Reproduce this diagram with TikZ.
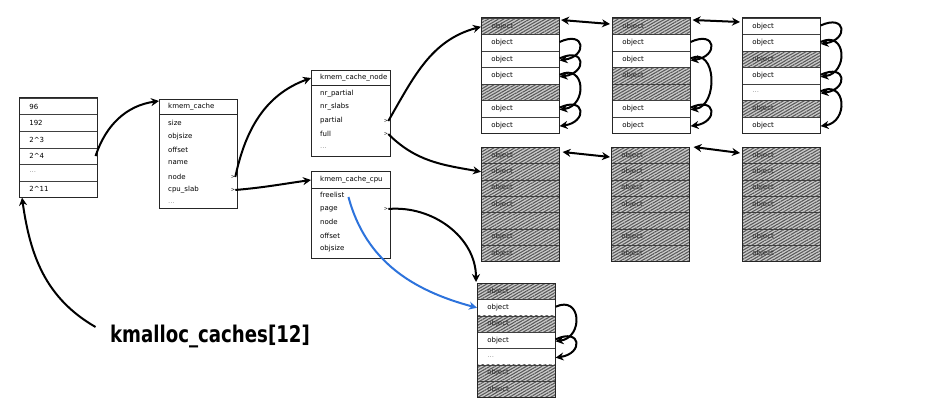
\documentclass[tikz,border=0pt]{standalone}
\usepackage{fontspec}
\setmainfont{DejaVu Sans}
\usetikzlibrary{arrows.meta,patterns.meta,calc}
\definecolor{fblue}{RGB}{45,115,220}
\newcommand\dotsg{\textcolor{black!40}{...}}
\newcommand\mkslab[5]{%
  \foreach \st/\tx [count=\i] in {#5}{%
    \node[\st, minimum height=#4pt] (#1-\i) at (#2,{-(#3+(\i-1)*#4)}) {\tx};}%
}
\newcommand\lp[2]{\draw[arr] ($(#1.east)+(0,1)$) .. controls +(26,12) and +(28,4) .. ($(#2.east)+(0,-1)$);}
\begin{document}
\begin{tikzpicture}[x=1pt,y=1pt,
  every node/.style={font=\fontsize{7}{8}\selectfont},
  cell/.style={draw=black!75, line width=0.6pt, fill=white, inner ysep=0pt, inner xsep=10pt,
    text width=58pt, align=left, anchor=north west},
  hcell/.style={cell, preaction={fill=gray!40},
    pattern={Lines[angle=30,distance=2.6pt,line width=1.1pt]}, pattern color=black!65, text=black!85},
  frame/.style={draw=black!85, line width=1pt},
  box/.style={draw=black!85, line width=1pt, fill=white, anchor=north west, inner sep=0pt},
  item/.style={anchor=west, inner sep=0pt},
  mk/.style={anchor=center, inner sep=0pt, font=\fontsize{5}{6}\selectfont},
  arr/.style={draw=black, line width=2pt, -{Stealth[length=8pt,width=8pt]}},
  darr/.style={draw=black, line width=2pt, {Stealth[length=8pt,width=8pt]}-{Stealth[length=8pt,width=8pt]}}
]
\useasboundingbox (0,0) rectangle (930,-412);

% left table
\mkslab{L}{19}{98}{16.5}{cell/96, cell/192, cell/2\textasciicircum3, cell/2\textasciicircum4, cell/\dotsg, cell/2\textasciicircum11}
\draw[frame] (L-1.north west) rectangle (L-6.south east);

% kmem_cache
\node[box, minimum width=78pt, minimum height=109pt] (kc) at (159,-99) {};
\draw[frame] (159,-115) -- (237,-115);
\node[item] (kc-h) at (168,-107) {kmem\_cache};
\node[item] (kc-size) at (168,-123) {size};
\node[item] (kc-objsize) at (168,-137) {objsize};
\node[item] (kc-offset) at (168,-150) {offset};
\node[item] (kc-name) at (168,-163) {name};
\node[item] (kc-node) at (168,-177) {node};
\node[item] (kc-cpu) at (168,-190) {cpu\_slab};
\node[item] (kc-dots) at (168,-203) {\dotsg};
\node[mk] (kc-m1) at (233,-177) {>};
\node[mk] (kc-m2) at (233,-190) {>};

% kmem_cache_node
\node[box, minimum width=79pt, minimum height=86pt] (kcn) at (311,-70) {};
\draw[frame] (311,-86) -- (390,-86);
\node[item] (kcn-h) at (320,-78) {kmem\_cache\_node};
\node[item] (kcn-nrp) at (320,-94) {nr\_partial};
\node[item] (kcn-nrs) at (320,-107) {nr\_slabs};
\node[item] (kcn-partial) at (320,-121) {partial};
\node[item] (kcn-full) at (320,-134) {full};
\node[item] (kcn-dots) at (320,-148) {\dotsg};
\node[mk] (kcn-m1) at (386,-121) {>};
\node[mk] (kcn-m2) at (386,-134) {>};

% kmem_cache_cpu
\node[box, minimum width=79pt, minimum height=87pt] (kcc) at (311,-171) {};
\draw[frame] (311,-188) -- (390,-188);
\node[item] (kcc-h) at (320,-180) {kmem\_cache\_cpu};
\node[item] (kcc-freelist) at (320,-195) {freelist};
\node[item] (kcc-page) at (320,-209) {page};
\node[item] (kcc-node) at (320,-222) {node};
\node[item] (kcc-offset) at (320,-236) {offset};
\node[item] (kcc-objsize) at (320,-249) {objsize};
\node[mk] (kcc-m1) at (386,-209) {>};

% slabs
\mkslab{T1}{481}{18}{16.43}{hcell/object, cell/object, cell/object, cell/object, hcell/{}, cell/object, cell/object}
\mkslab{T2}{612}{18}{16.43}{hcell/object, cell/object, cell/object, hcell/object, hcell/{}, cell/object, cell/object}
\mkslab{T3}{742}{18}{16.43}{cell/object, cell/object, hcell/object, cell/object, cell/\dotsg, hcell/object, cell/object}
\mkslab{M1}{481}{147}{16.3}{hcell/object, hcell/object, hcell/object, hcell/object, hcell/{}, hcell/object, hcell/object}
\mkslab{M2}{611}{147}{16.3}{hcell/object, hcell/object, hcell/object, hcell/object, hcell/{}, hcell/object, hcell/object}
\mkslab{M3}{742}{147}{16.3}{hcell/object, hcell/object, hcell/object, hcell/object, hcell/{}, hcell/object, hcell/object}
\mkslab{B}{477}{283}{16.3}{hcell/object, cell/object, hcell/object, cell/object, cell/\dotsg, hcell/object, hcell/object}
\foreach \s in {T1,T2,T3,M1,M2,M3,B}{\draw[frame] (\s-1.north west) rectangle (\s-7.south east);}

% label
\node (kl) at (210,-336) {\fontsize{23}{26}\selectfont\bfseries\scalebox{0.79}[1]{kmalloc\_caches[12]}};

% connectors
\draw[arr] ($(kl.west)+(-11,9)$) to[out=150,in=-82] ($(L-6.south west)+(3,0)$);
\draw[arr] ($(L-4.east)+(-2,0)$) to[out=72,in=188] ($(kc.north west)+(0,-2)$);
\draw[arr] (kc-m1.east) to[out=78,in=200] (kcn.west |- kcn-h);
\draw[arr] (kc-m2.east) to[out=5,in=188] (kcc.west |- kcc-h);
\draw[arr] (kcn-m1.east) to[out=60,in=195] (T1-1.west);
\draw[arr] (kcn-m2.east) to[out=-45,in=170] (M1-2.west);
\draw[arr] (kcc-m1.east) to[out=5,in=90] ($(B-1.north west)+(-1,1)$);
\draw[arr, draw=fblue] ($(kcc-freelist.east)+(4,-2)$) to[out=-75,in=165] (B-2.west);

\draw[darr] ($(T1-1.north east)+(1,-2)$) -- ($(T2-1.north west)+(-2,-6)$);
\draw[darr] ($(T2-1.north east)+(2,-2)$) -- ($(T3-1.north west)+(-2,-4)$);
\draw[darr] ($(M1-1.north east)+(3,-5)$) -- ($(M2-1.north west)+(-1,-10)$);
\draw[darr] ($(M2-1.north east)+(4,0)$) -- ($(M3-1.north west)+(-2,-6)$);

\lp{T1-2}{T1-3}\lp{T1-3}{T1-4}\lp{T1-4}{T1-6}\lp{T1-6}{T1-7}
\lp{T2-2}{T2-3}\lp{T2-3}{T2-6}\lp{T2-6}{T2-7}
\lp{T3-1}{T3-2}\lp{T3-2}{T3-4}\lp{T3-4}{T3-5}\lp{T3-5}{T3-7}
\lp{B-2}{B-4}\lp{B-4}{B-5}
\end{tikzpicture}
\end{document}
